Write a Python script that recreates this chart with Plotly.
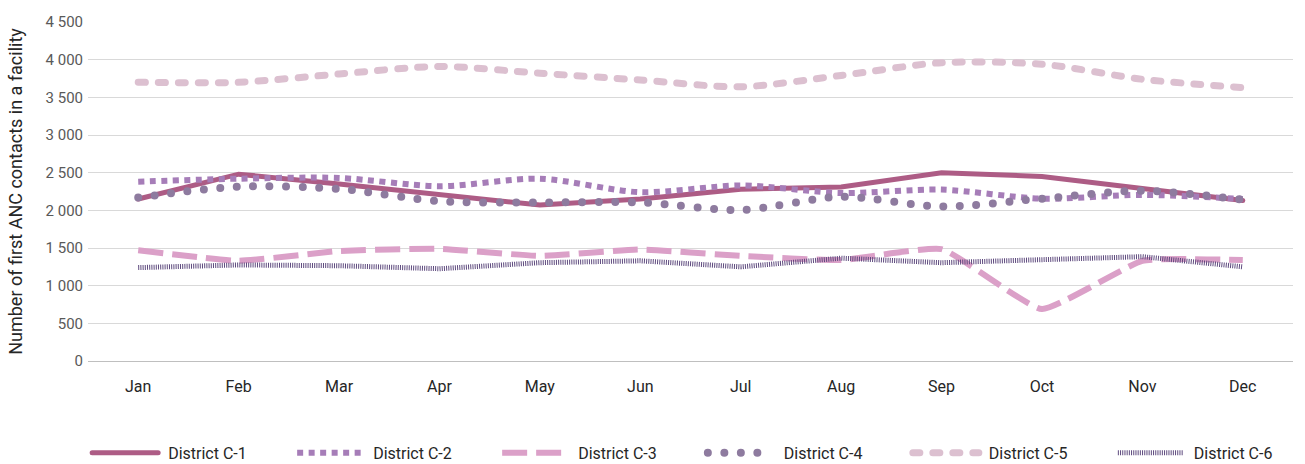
import plotly.graph_objects as go

months = ["Jan", "Feb", "Mar", "Apr", "May", "Jun", "Jul", "Aug", "Sep", "Oct", "Nov", "Dec"]

district_c1 = [2150, 2480, 2350, 2210, 2070, 2150, 2280, 2310, 2500, 2450, 2290, 2130]
district_c2 = [2380, 2420, 2430, 2320, 2420, 2240, 2330, 2230, 2275, 2155, 2205, 2150]
district_c3 = [1470, 1330, 1460, 1490, 1395, 1480, 1395, 1340, 1485, 690, 1330, 1340]
district_c4 = [2170, 2315, 2285, 2120, 2105, 2105, 2005, 2180, 2050, 2155, 2260, 2140]
district_c5 = [3700, 3700, 3810, 3910, 3820, 3730, 3640, 3790, 3960, 3940, 3740, 3630]
district_c6 = [1240, 1275, 1265, 1225, 1305, 1330, 1250, 1365, 1305, 1340, 1385, 1250]

series = [
    ("District C-1", district_c1, dict(color="#AD5C85", width=5, dash="solid"), dict(shape="linear"), "legend"),
    ("District C-2", district_c2, dict(color="#A67DB8", width=6, dash="6px,5.5px"), dict(shape="spline", smoothing=0.8), "legend"),
    ("District C-3", district_c3, dict(color="#DBA0C8", width=6, dash="25px,9px"), dict(shape="spline", smoothing=0.4), "legend"),
    ("District C-4", district_c4, dict(color="#8E7B9F", width=8, dash="0px,16.5px"), dict(shape="spline", smoothing=0.8), "legend2"),
    ("District C-5", district_c5, dict(color="#DCC0D0", width=7, dash="7px,13px"), dict(shape="spline", smoothing=0.8), "legend2"),
    ("District C-6", district_c6, dict(color="#5E4A7E", width=5, dash="1px,1.2px"), dict(shape="linear"), "legend2"),
]

fig = go.Figure()
for name, values, line, shape, leg in series:
    fig.add_trace(go.Scatter(
        x=months, y=values, name=name, mode="lines",
        line=dict(**line, **shape), legend=leg,
        hoverinfo="x+y+name",
    ))

legend_style = dict(
    orientation="h", xref="container", yref="container",
    xanchor="left", y=0.024, yanchor="middle",
    font=dict(size=16, color="#262626"),
    entrywidth=160, entrywidthmode="pixels",
    traceorder="normal",
)

fig.update_layout(
    width=1305, height=464,
    margin=dict(l=88, r=12, t=22, b=103, autoexpand=False),
    paper_bgcolor="white", plot_bgcolor="white",
    font=dict(family="Roboto, Arial, sans-serif", size=15, color="#333333"),
    separators=". ",
    showlegend=True,
    legend=dict(**legend_style, x=0.0982),
    legend2=dict(**legend_style, x=0.5700),
    xaxis=dict(
        type="category", showgrid=False, showline=False, zeroline=False,
        ticks="", tickfont=dict(size=16, color="#262626"), ticklabelstandoff=14,
        range=[-0.5, 11.5],
    ),
    yaxis=dict(
        range=[0, 4500], dtick=500, tickformat=",d",
        showgrid=True, gridcolor="#D9D9D9", gridwidth=1,
        zeroline=True, zerolinecolor="#BFBFBF", zerolinewidth=1,
        showline=False, ticks="", ticklabelstandoff=4,
        tickfont=dict(size=15, color="#595959"),
        title=dict(text="Number of first ANC contacts in a facility",
                   font=dict(size=18, color="#262626"), standoff=18),
    ),
)

# round caps for the rounded series, and longer, unclipped legend swatches
legend_css = """
var css = document.createElement('style');
css.innerHTML = [
  '.scatterlayer .trace:nth-child(1) path.js-line, .scatterlayer .trace:nth-child(4) path.js-line, .scatterlayer .trace:nth-child(5) path.js-line, .legend2 .traces:nth-child(1) path.js-line, .legend2 .traces:nth-child(2) path.js-line, .legend .traces:nth-child(1) path.js-line {stroke-linecap: round;}',
  '.legend .traces path.js-line, .legend2 .traces path.js-line {d: path("M-36,0h66");}',
  '.legend g.scrollbox, .legend2 g.scrollbox {clip-path: none;}'
].join('\\n');
document.head.appendChild(css);
"""

fig.write_html("out.html", post_script=legend_css)
